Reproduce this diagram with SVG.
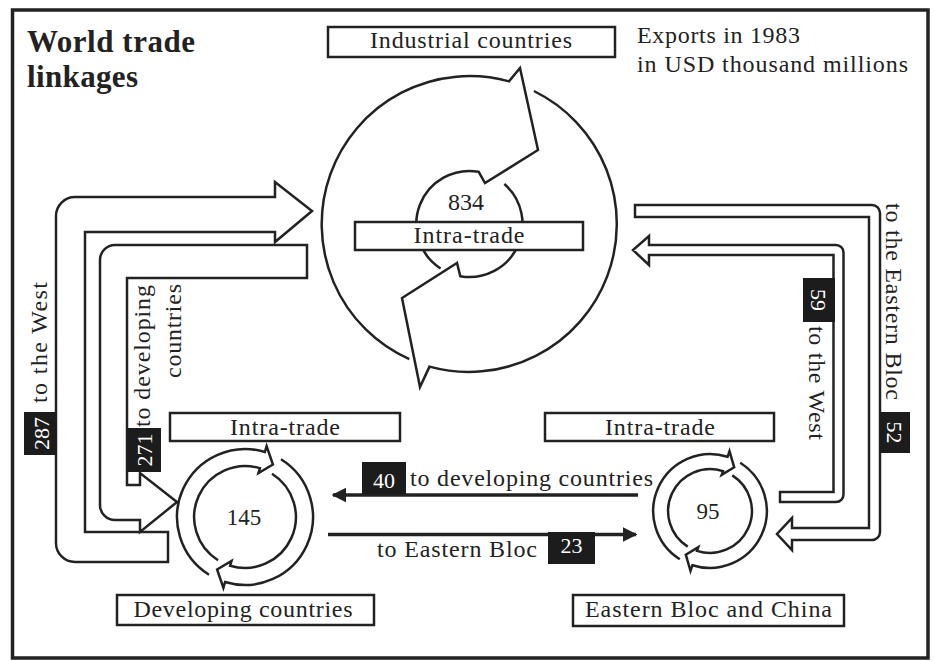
<svg xmlns="http://www.w3.org/2000/svg" width="935" height="661" viewBox="0 0 935 661">
<style>
.ln{fill:none;stroke:#222;stroke-width:2.5;stroke-linejoin:miter}
.sh{fill:#fff;stroke:#222;stroke-width:2.5;stroke-linejoin:miter}
.box{fill:#fff;stroke:#222;stroke-width:2.5}
.lab{fill:#1c1c1c}
.t{font-family:"Liberation Serif","Times New Roman",serif;font-size:24px;fill:#222}
.n{font-size:22px}
.w{fill:#fff}
.c{text-anchor:middle}
.e{text-anchor:end}
.ttl{font-weight:bold;font-size:31px}
</style>
<defs>
<marker id="ah" viewBox="0 0 10 10" refX="9" refY="5" markerWidth="4.2" markerHeight="4.6" orient="auto">
<path d="M0,0 L10,5 L0,10 Z" fill="#222"/>
</marker>
</defs>
<rect x="12.5" y="10" width="915.5" height="648" fill="none" stroke="#222" stroke-width="3.5"/>
<g id="title">
<text class="t ttl" x="27" y="52" textLength="168" lengthAdjust="spacing">World trade</text>
<text class="t ttl" x="27" y="87" textLength="111" lengthAdjust="spacing">linkages</text>
</g>
<g id="note">
<text class="t" x="637" y="43" textLength="163" lengthAdjust="spacing">Exports in 1983</text>
<text class="t" x="637" y="72" textLength="271" lengthAdjust="spacing">in USD thousand millions</text>
</g>
<g id="connectors">
<path class="sh" d="M168,532 L85,532 L85,232 L275,232 L275,242 L312,211 L275,182 L275,197 L75,197 A19,19 0 0 0 56,216 L56,543 A19,19 0 0 0 75,562 L168,562 Z"/>
<path class="sh" d="M307,245 L115,245 A15,15 0 0 0 100,260 L100,505 A15,15 0 0 0 115,520 L140,520 L140,532 L177,502 L140,473 L140,485 L127,485 L127,278 L307,278 Z"/>
<path class="sh" d="M635,205 L872,205 A8,8 0 0 1 880,213 L880,532 A8,8 0 0 1 872,540 L792,540 L792,550 L777,534 L792,518 L792,528 L869,528 L869,217 L635,217 Z"/>
<path class="sh" d="M780,492 L833.5,492 L833.5,255 L649,255 L649,265 L633,250 L649,236 L649,245 L836,245 A7.5,7.5 0 0 1 843.5,252.5 L843.5,494.5 A7.5,7.5 0 0 1 836,502 L780,502 Z"/>
<line x1="638" y1="495" x2="333" y2="495" stroke="#222" stroke-width="3.5" marker-end="url(#ah)"/>
<line x1="328" y1="534.5" x2="636" y2="534.5" stroke="#222" stroke-width="3.5" marker-end="url(#ah)"/>
<rect class="lab" x="24" y="412" width="32" height="43"/>
<text class="t n w c" transform="translate(48.5,433.5) rotate(-90)">287</text>
<text class="t" transform="translate(47,403) rotate(-90)" textLength="121" lengthAdjust="spacing">to the West</text>
<rect class="lab" x="127" y="428" width="34" height="44"/>
<text class="t n w c" transform="translate(152,450) rotate(-90)">271</text>
<text class="t" transform="translate(150,427) rotate(-90)" textLength="142" lengthAdjust="spacing">to developing</text>
<text class="t e" transform="translate(181,284) rotate(-90)" textLength="94" lengthAdjust="spacing">countries</text>
<rect class="lab" x="880" y="412" width="30" height="41"/>
<text class="t n w c" transform="translate(887,432.5) rotate(90)">52</text>
<text class="t" transform="translate(886,203) rotate(90)" textLength="197" lengthAdjust="spacing">to the Eastern Bloc</text>
<rect class="lab" x="803" y="278" width="32" height="44"/>
<text class="t n w c" transform="translate(811,300) rotate(90)">59</text>
<text class="t" transform="translate(809,326) rotate(90)" textLength="114" lengthAdjust="spacing">to the West</text>
<rect class="lab" x="362" y="462" width="44" height="32"/>
<text class="t n w c" x="384" y="488">40</text>
<text class="t" x="410" y="486" textLength="243" lengthAdjust="spacing">to developing countries</text>
<text class="t" x="377" y="557" textLength="160" lengthAdjust="spacing">to Eastern Bloc</text>
<rect class="lab" x="548" y="532" width="47" height="32"/>
<text class="t n w c" x="571.5" y="553">23</text>
</g>
<g id="industrial">
<rect class="box" x="328" y="27" width="287" height="30"/>
<text class="t c" x="471" y="48" textLength="202" lengthAdjust="spacing">Industrial countries</text>
<path class="ln" d="M409.3,359.2 A148,148 0 0 1 509,81.4 L520,68 L538,150 L485,183 L478.7,171.8 A53,53 0 0 0 440.6,268.5"/>
<path class="ln" d="M533.9,91 A148,148 0 0 1 429.5,366.6 L420,387 L402,298 L457,263 L460.3,276.2 A53,53 0 0 0 504.3,184"/>
<text class="t c" x="466" y="210">834</text>
<rect class="box" x="355" y="222" width="228" height="28"/>
<text class="t c" x="469" y="243" textLength="111" lengthAdjust="spacing">Intra-trade</text>
</g>
<g id="developing">
<rect class="box" x="170" y="413" width="230" height="28"/>
<text class="t c" x="285" y="435" textLength="110" lengthAdjust="spacing">Intra-trade</text>
<path class="ln" d="M209,574.7 A68,68 0 0 1 264.9,452 L266.6,446.2 L272.9,464.5 L258.5,473 L259.9,468.2 A51,51 0 0 0 218,560.2"/>
<path class="ln" d="M281,459.3 A68,68 0 0 1 225.1,582 L223.4,587.8 L217.1,569.5 L231.5,561 L230.1,565.8 A51,51 0 0 0 272,473.8"/>
<text class="t c" x="244" y="525" style="font-size:23px">145</text>
<rect class="box" x="117" y="595" width="257" height="30"/>
<text class="t c" x="243" y="617" textLength="219" lengthAdjust="spacing">Developing countries</text>
</g>
<g id="eastern">
<rect class="box" x="545" y="413" width="229" height="28"/>
<text class="t c" x="660" y="435" textLength="110" lengthAdjust="spacing">Intra-trade</text>
<path class="ln" d="M679.8,559.3 A57,57 0 0 1 727.6,456.8 L729.5,451.1 L734.2,467.3 L721.7,474.9 L723,471.1 A42,42 0 0 0 687.7,546.6"/>
<path class="ln" d="M740.2,462.7 A57,57 0 0 1 692.4,565.2 L690.5,570.9 L685.8,554.7 L698.3,547.1 L697,550.9 A42,42 0 0 0 732.3,475.4"/>
<text class="t c" x="708" y="519" style="font-size:23px">95</text>
<rect class="box" x="573" y="595" width="271" height="31"/>
<text class="t c" x="708.5" y="617" textLength="247" lengthAdjust="spacing">Eastern Bloc and China</text>
</g>
</svg>
